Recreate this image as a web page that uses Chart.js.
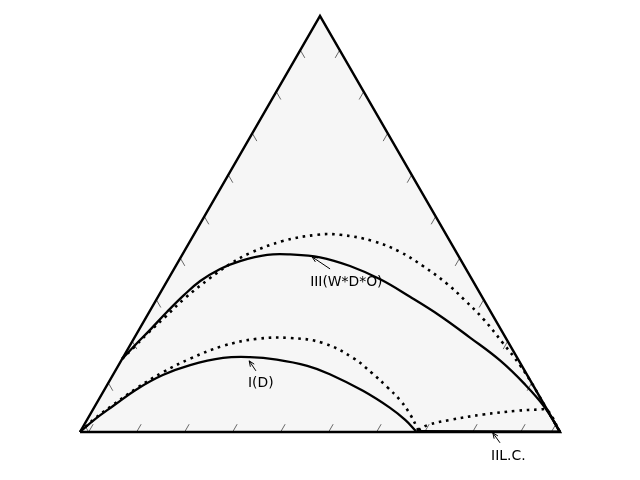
<!DOCTYPE html>
<html>
<head>
<meta charset="utf-8">
<script src="https://cdn.jsdelivr.net/npm/chart.js@4.4.0/dist/chart.umd.min.js"></script>
<style>
    html, body { margin: 0; padding: 0; background: #fff; }
    #wrap { width: 640px; height: 480px; }
</style>
</head>
<body>
<div id="wrap"><canvas id="ternary"></canvas></div>
<script>
// ternary points as [right, top]; left = 1 - right - top
const corners = [[0, 0], [1, 0], [0, 1], [0, 0]];

const curveIII = [[0.000, 0.176], [0.012, 0.214], [0.023, 0.245], [0.037, 0.289], [0.052, 0.329],
    [0.069, 0.363], [0.096, 0.392], [0.128, 0.411], [0.177, 0.426], [0.224, 0.427], [0.290, 0.420],
    [0.363, 0.399], [0.442, 0.367], [0.525, 0.325], [0.611, 0.279], [0.699, 0.227], [0.789, 0.172],
    [0.869, 0.115], [0.939, 0.059], [1.000, 0.000]];
const curveIIIdot = [[0.000, 0.176], [0.010, 0.202], [0.022, 0.236], [0.039, 0.276], [0.058, 0.322],
    [0.086, 0.370], [0.111, 0.404], [0.139, 0.430], [0.193, 0.459], [0.257, 0.474], [0.305, 0.474],
    [0.381, 0.459], [0.450, 0.433], [0.515, 0.399], [0.587, 0.356], [0.643, 0.317], [0.704, 0.272],
    [0.774, 0.214], [0.836, 0.161], [0.887, 0.113], [0.909, 0.091], [1.000, 0.000]];
const curveI = [[0.000, 0.000], [0.016, 0.031], [0.038, 0.063], [0.067, 0.103], [0.104, 0.137],
    [0.149, 0.161], [0.209, 0.178], [0.264, 0.180], [0.323, 0.174], [0.394, 0.159], [0.451, 0.139],
    [0.540, 0.099], [0.617, 0.058], [0.663, 0.029], [0.699, 0.002]];
const curveIdot = [[0.000, 0.000], [0.015, 0.033], [0.036, 0.065], [0.066, 0.106], [0.101, 0.144],
    [0.141, 0.176], [0.195, 0.207], [0.257, 0.224], [0.325, 0.226], [0.399, 0.214], [0.480, 0.178],
    [0.537, 0.142], [0.586, 0.108], [0.628, 0.077], [0.666, 0.043], [0.702, 0.005]];
const curveIIdot = [[0.702, 0.005], [0.717, 0.017], [0.756, 0.029], [0.819, 0.042], [0.885, 0.051],
    [0.931, 0.054], [0.947, 0.053], [1.000, 0.000]];
const curveIIL = [[0.700, 0.002], [1.000, 0.001]];

const tickVals = [0.018, 0.118, 0.218, 0.318, 0.418, 0.518, 0.618, 0.718, 0.818, 0.918];

const labels = ["III(W*D*O)", "I(D)", "IIL.C."];
const arrowTips = [[0.273, 0.421], [0.267, 0.171], [0.861, -0.002]];
const arrowTails = [[0.325, 0.392], [0.293, 0.147], [0.888, -0.026]];
const textAt = [[0.304, 0.351], [0.296, 0.108], [0.890, -0.067]];

function toXY(p) {
    return { x: p[0] + p[1] / 2, y: p[1] };
}

function line(pts, dotted) {
    return {
        data: pts.map(toXY),
        showLine: true,
        borderColor: "#000",
        borderWidth: dotted ? 2.6 : 2.3,
        borderDash: dotted ? [2.6, 4.8] : [],
        borderCapStyle: "butt",
        pointRadius: 0,
        tension: 0.4,
        fill: false,
        order: 2
    };
}

function px(chart, p) {
    const q = toXY(p);
    return [chart.scales.x.getPixelForValue(q.x), chart.scales.y.getPixelForValue(q.y)];
}

const ternaryPlugin = {
    id: "ternary",
    beforeDatasetsDraw(chart) {
        const ctx = chart.ctx;
        ctx.save();
        // fundo do triangulo
        ctx.beginPath();
        corners.forEach((c, i) => {
            const [x, y] = px(chart, c);
            if (i === 0) ctx.moveTo(x, y); else ctx.lineTo(x, y);
        });
        ctx.closePath();
        ctx.fillStyle = "#f6f6f6";
        ctx.fill();

        // ticks
        const L = 9;
        ctx.strokeStyle = "#444";
        ctx.lineWidth = 0.8;
        tickVals.forEach(v => {
            const marks = [
                [px(chart, [v, 0]), [0.5, -0.866]],
                [px(chart, [0, v]), [0.5, 0.866]],
                [px(chart, [1 - v, v]), [-0.5, 0.866]]
            ];
            marks.forEach(([p, d]) => {
                ctx.beginPath();
                ctx.moveTo(p[0], p[1]);
                ctx.lineTo(p[0] + d[0] * L, p[1] + d[1] * L);
                ctx.stroke();
            });
        });
        ctx.restore();
    },
    afterDatasetsDraw(chart) {
        const ctx = chart.ctx;
        ctx.save();
        ctx.strokeStyle = "#000";
        ctx.fillStyle = "#000";
        ctx.lineWidth = 1;
        ctx.font = "13.9px 'DejaVu Sans'";
        ctx.textAlign = "left";
        ctx.textBaseline = "alphabetic";
        labels.forEach((txt, i) => {
            const tip = px(chart, arrowTips[i]);
            const tail = px(chart, arrowTails[i]);
            const ang = Math.atan2(tip[1] - tail[1], tip[0] - tail[0]);
            ctx.beginPath();
            ctx.moveTo(tail[0], tail[1]);
            ctx.lineTo(tip[0], tip[1]);
            ctx.moveTo(tip[0] - 6 * Math.cos(ang - 0.4), tip[1] - 6 * Math.sin(ang - 0.4));
            ctx.lineTo(tip[0], tip[1]);
            ctx.lineTo(tip[0] - 6 * Math.cos(ang + 0.4), tip[1] - 6 * Math.sin(ang + 0.4));
            ctx.stroke();
            const t = px(chart, textAt[i]);
            ctx.fillText(txt, t[0], t[1]);
        });
        ctx.restore();
    }
};

new Chart(document.getElementById("ternary"), {
    type: "scatter",
    data: {
        datasets: [
            Object.assign(line(corners, false), { borderWidth: 2.5, tension: 0, order: 0, borderJoinStyle: "miter" }),
            line(curveIII, false),
            line(curveIIIdot, true),
            line(curveI, false),
            line(curveIdot, true),
            line(curveIIdot, true),
            line(curveIIL, false)
        ]
    },
    options: {
        responsive: true,
        maintainAspectRatio: false,
        animation: false,
        layout: { padding: 0 },
        plugins: { legend: { display: false }, tooltip: { enabled: false } },
        scales: {
            x: { type: "linear", min: -80 / 480, max: 560 / 480, display: false },
            y: { type: "linear", min: -48 / 416, max: 1 + 16 / 416, display: false }
        }
    },
    plugins: [ternaryPlugin]
});
</script>
</body>
</html>
